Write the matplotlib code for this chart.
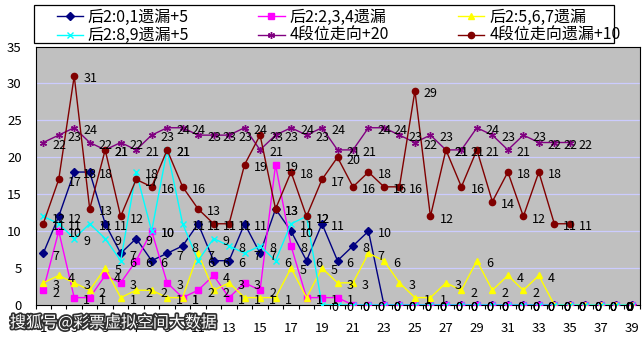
import numpy as np
import matplotlib
matplotlib.use("Agg")
import matplotlib.pyplot as plt
import matplotlib.patheffects as pe
from matplotlib.patches import Rectangle

plt.rcParams['font.family'] = ['Noto Sans CJK SC', 'DejaVu Sans']

nan = np.nan

# categories 1..39
cats = list(range(1, 40))
xtick_labels = [str(c) for c in cats if c % 2 == 1]

s_01 = [7, 12, 18, 18, 11, 7, 9, 6, 7, 8, 11, 6, 6, 11, 7, 13, 10, 6, 11, 6, 8, 10] + [0] * 17
s_234 = [2, 10, 1, 1, 4, 3, 6, 10, 3, 1, 2, 4, 1, 3, 2, 19, 8, 1, 1, 1] + [0] * 19
s_567 = [3, 4, 3, 2, 5, 1, 2, 2, 1, 1, 7, 2, 3, 1, 1, 1, 5, 1, 5, 3,
         3, 7, 6, 3, 1, 1, 3, 2, 6, 2, 4, 2, 4] + [0] * 6
s_89 = [12, 11, 9, 11, 9, 6, 18, 10, 21, 11, 6, 9, 8, 7, 8, 6, 11, 12] + [0] * 21
s_dir = [22, 23, 24, 22, 21, 22, 21, 23, 24, 24, 23, 23, 23, 24, 21, 23, 24, 23, 24, 21,
         21, 24, 24, 23, 22, 23, 21, 21, 24, 23, 21, 23, 22, 22, 22] + [nan] * 4
s_dir_miss = [11, 17, 31, 13, 21, 12, 17, 16, 21, 16, 13, 11, 11, 19, 23, 13, 18, 12, 17, 20,
              16, 18, 16, 16, 29, 12, 21, 16, 21, 14, 18, 12, 18, 11, 11] + [nan] * 4

names = ["后2:0,1遗漏+5", "后2:2,3,4遗漏", "后2:5,6,7遗漏",
         "后2:8,9遗漏+5", "4段位走向+20", "4段位走向遗漏+10"]

# (color, marker, markersize)
styles = [
    ("#000080", "D", 4.0),
    ("#FF00FF", "s", 4.5),
    ("#FFFF00", "^", 5.0),
    ("#00FFFF", "x", 4.0),
    ("#800080", (6, 2, 0), 5.0),
    ("#800000", "o", 4.5),
]

W, H = 643, 340


def main():
    fig = plt.figure(figsize=(W / 100, H / 100), dpi=100)
    ax = fig.add_axes([35.5 / W, 1 - 305 / H, 604 / W, (305 - 46.5) / H])
    ax.set_facecolor("#C0C0C0")

    series = [s_01, s_234, s_567, s_89, s_dir, s_dir_miss]
    handles = []
    for vals, name, (col, mk, ms) in zip(series, names, styles):
        h, = ax.plot(cats, vals, color=col, lw=1.0, marker=mk, ms=ms,
                     mfc=col, mec=col, mew=1.0, label=name, zorder=3)
        handles.append(h)

    # data labels, right of each point (Excel style)
    for vals in series:
        for c, v in zip(cats, vals):
            if np.isnan(v):
                continue
            if c == cats[-1]:
                ax.annotate(f"{v:g}", (c, v), xytext=(-1, -2), textcoords="offset points",
                            ha="center", va="center", fontsize=9, zorder=5)
            else:
                ax.annotate(f"{v:g}", (c, v), xytext=(6.5, -2), textcoords="offset points",
                            ha="left", va="center", fontsize=9, zorder=5)

    ax.set_xlim(0.5, 39.5)
    ax.set_ylim(0, 35)
    ax.set_yticks(range(0, 36, 5))
    ax.tick_params(axis="y", length=0, pad=10, labelsize=9.5)
    ax.set_xticks([c for c in cats if c % 2 == 1])
    ax.set_xticklabels(xtick_labels)
    ax.tick_params(axis="x", which="major", length=0, pad=12, labelsize=9.5)
    ax.set_xticks(np.arange(0.5, 40, 1), minor=True)
    ax.tick_params(axis="x", which="minor", length=3, width=0.8, direction="out")
    for y in range(5, 35, 5):
        ax.axhline(y, color="#CCCCFF", lw=0.9, zorder=1)
    for sp in ax.spines.values():
        sp.set_color("black")
        sp.set_linewidth(0.8)

    # legend: box plus three columns
    fig.patches.append(Rectangle((34 / W, 1 - 43 / H), 580 / W, 38 / H,
                                 transform=fig.transFigure, fill=False,
                                 edgecolor="black", lw=0.9))
    col_x = [56.7, 258.3, 458.0]
    for j in range(3):
        fig.legend(handles=[handles[j], handles[j + 3]], loc="upper left",
                   bbox_to_anchor=(col_x[j] / W, 1 - 8.5 / H), frameon=False,
                   fontsize=11.5, handlelength=1.65, handletextpad=0.3,
                   borderpad=0, borderaxespad=0, labelspacing=0.1)

    fig.text(10 / W, 1 - 323 / H, "搜狐号@彩票虚拟空间大数据", fontsize=11.5,
             color="white", va="center", ha="left", zorder=10,
             path_effects=[pe.withStroke(linewidth=2.5, foreground="#303030")])

    fig.savefig("out.png", dpi=100)
    plt.close(fig)


if __name__ == "__main__":
    main()
